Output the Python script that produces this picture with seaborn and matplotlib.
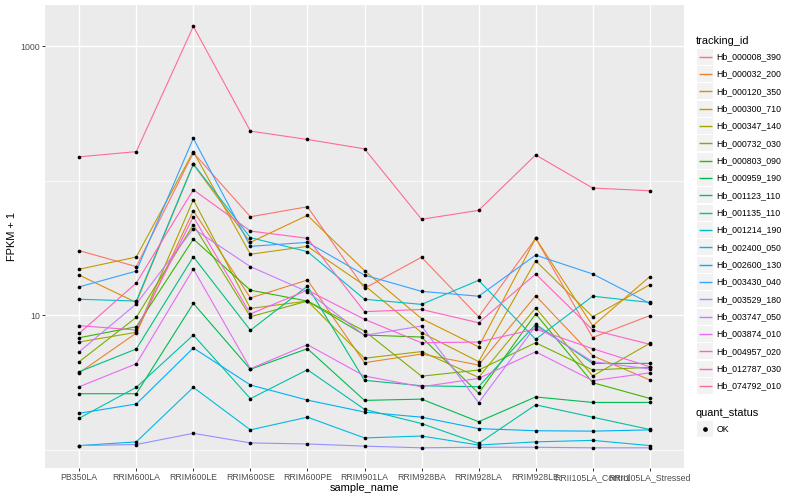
import numpy as np
import pandas as pd
import matplotlib
matplotlib.use("Agg")
import matplotlib.pyplot as plt
import seaborn as sns
from matplotlib.patches import Rectangle
from matplotlib.lines import Line2D
from matplotlib.ticker import FixedLocator, FixedFormatter, NullFormatter

# ---------------- data ----------------
samples = ["PB350LA", "RRIM600LA", "RRIM600LE", "RRIM600SE", "RRIM600PE", "RRIM901LA",
           "RRIM928BA", "RRIM928LA", "RRIM928LE", "RRII105LA_Control", "RRII105LA_Stressed"]

tracking_ids = ["Hb_000008_390", "Hb_000032_200", "Hb_000120_350", "Hb_000300_710",
                "Hb_000347_140", "Hb_000732_030", "Hb_000803_090", "Hb_000959_190",
                "Hb_001123_110", "Hb_001135_110", "Hb_001214_190", "Hb_002400_050",
                "Hb_002600_130", "Hb_003430_040", "Hb_003529_180", "Hb_003747_050",
                "Hb_003874_010", "Hb_004957_020", "Hb_012787_030", "Hb_074792_010"]

hue_colors = ["#F8766D", "#EA8331", "#D89000", "#C09B00", "#A3A500", "#7CAE00", "#39B600",
              "#00BB4E", "#00BF7D", "#00C1A3", "#00BFC4", "#00BAE0", "#00B0F6", "#35A2FF",
              "#9590FF", "#C77CFF", "#E76BF3", "#FA62DB", "#FF62BC", "#FF6C91"]

v_000008_390 = [30.1, 22.9, 161, 53.8, 63.8, 15.8, 26.9, 9.7, 37.2, 6.8, 9.9]
v_000032_200 = [3.72, 7.35, 59.7, 13.4, 18.2, 4.42, 5.13, 4.25, 13.9, 4.98, 3.29]
v_000120_350 = [19.8, 12.4, 132, 34.7, 55.1, 21.4, 9.4, 5.8, 37.2, 8.3, 19.3]
v_000300_710 = [21.9, 27.0, 164, 28.3, 32.4, 16.6, 7.4, 4.5, 25.3, 9.7, 16.8]
v_000347_140 = [6.3, 7.44, 72.0, 11.2, 12.7, 4.77, 5.35, 3.44, 11.3, 3.52, 6.16]
v_000732_030 = [4.5, 9.61, 46.9, 9.71, 12.7, 7.6, 3.51, 3.9, 6.22, 3.9, 4.09]
v_000803_090 = [6.78, 8.18, 36.7, 15.3, 12.7, 7.1, 6.86, 2.62, 10.2, 3.14, 2.4]
v_000959_190 = [2.6, 2.6, 12.2, 3.95, 5.62, 2.32, 2.37, 1.61, 2.46, 2.24, 2.24]
v_001123_110 = [3.79, 5.59, 27.1, 7.7, 16.4, 3.27, 2.98, 2.93, 8.53, 4.37, 4.37]
v_001135_110 = [1.71, 2.9, 7.1, 2.39, 3.92, 1.99, 1.56, 1.11, 2.15, 1.74, 1.41]
v_001214_190 = [13.1, 12.7, 133, 37.6, 29.6, 13.1, 12.0, 18.1, 6.6, 13.8, 12.4]
v_002400_050 = [1.07, 1.14, 2.9, 1.4, 1.74, 1.22, 1.26, 1.08, 1.14, 1.17, 1.07]
v_002600_130 = [1.86, 2.18, 5.69, 3.02, 2.33, 1.9, 1.74, 1.43, 1.38, 1.37, 1.4]
v_003430_040 = [16.2, 21.2, 206, 32.4, 34.7, 19.8, 15.0, 13.8, 27.9, 20.2, 12.2]
v_003529_180 = [1.07, 1.09, 1.32, 1.12, 1.10, 1.06, 1.03, 1.04, 1.04, 1.03, 1.03]
v_003747_050 = [5.33, 12.1, 43.9, 22.9, 14.9, 7.06, 8.28, 2.23, 8.28, 4.5, 3.97]
v_003874_010 = [2.93, 4.34, 22.0, 3.99, 6.02, 3.52, 2.93, 3.38, 5.33, 3.25, 3.72]
v_004957_020 = [8.33, 7.74, 53.7, 10.2, 15.3, 9.29, 6.22, 6.3, 7.87, 5.62, 4.13]
v_012787_030 = [7.31, 17.3, 85.4, 42.1, 37.2, 10.6, 11.0, 8.76, 20.2, 7.74, 6.06]
v_074792_010 = [150, 164, 1400, 233, 202, 172, 51.5, 60, 155, 87.9, 84]

series_values = [v_000008_390, v_000032_200, v_000120_350, v_000300_710, v_000347_140,
                 v_000732_030, v_000803_090, v_000959_190, v_001123_110, v_001135_110,
                 v_001214_190, v_002400_050, v_002600_130, v_003430_040, v_003529_180,
                 v_003747_050, v_003874_010, v_004957_020, v_012787_030, v_074792_010]

quant_status = ["OK"]
y_major = [10, 1000]
y_minor = [1, 100]

rows = []
for tid, vals in zip(tracking_ids, series_values):
    for s, v in zip(samples, vals):
        rows.append({"tracking_id": tid, "sample_name": s, "fpkm1": v, "quant_status": "OK"})
df = pd.DataFrame(rows)

# ---------------- figure ----------------
W, H = 800, 500
fig = plt.figure(figsize=(8, 5), dpi=100)
fig.patch.set_facecolor("white")
plt.rcParams["font.family"] = ["Liberation Sans", "DejaVu Sans"]

def fx(x):
    return x / W

def fy(y):
    return 1 - y / H

pl, pr, pt, pb = 45, 684, 5, 468
ax = fig.add_axes([fx(pl), fy(pb), (pr - pl) / W, (pb - pt) / H])
ax.set_facecolor("#EBEBEB")

palette = dict(zip(tracking_ids, hue_colors))
sns.lineplot(data=df, x="sample_name", y="fpkm1", hue="tracking_id", hue_order=tracking_ids,
             palette=palette, sort=False, estimator=None, errorbar=None, legend=False,
             linewidth=0.8, ax=ax, zorder=2)
sns.scatterplot(data=df, x="sample_name", y="fpkm1", color="black", s=7, marker="o",
                linewidth=0, legend=False, ax=ax, zorder=3)

ax.set_yscale("log")
ax.set_ylim(0.729, 2018)
ax.set_xlim(-0.6, len(samples) - 1 + 0.6)
ax.yaxis.set_major_locator(FixedLocator(y_major))
ax.yaxis.set_major_formatter(FixedFormatter([str(v) for v in y_major]))
ax.yaxis.set_minor_locator(FixedLocator(y_minor))
ax.yaxis.set_minor_formatter(NullFormatter())
ax.set_xticks(range(len(samples)))
ax.set_xticklabels(samples)

ax.grid(which="major", color="white", linewidth=1.0)
ax.grid(which="minor", axis="y", color="white", linewidth=0.5)
ax.set_axisbelow(True)
for sp in ax.spines.values():
    sp.set_visible(False)
ax.tick_params(which="major", length=2.0, width=0.7, color="#333333",
               labelcolor="#4D4D4D", labelsize=6.3, pad=1.6)
ax.tick_params(which="minor", length=0)
ax.set_xlabel("")
ax.set_ylabel("")

# axis titles
fig.text(fx(12), fy((pt + pb) / 2), "FPKM + 1", rotation=90, ha="center", va="center",
         fontsize=7.9, color="black")
fig.text(fx((pl + pr) / 2), fy(488), "sample_name", ha="center", va="center",
         fontsize=7.9, color="black")

# ---------------- legends ----------------
fig.text(fx(696), fy(40.5), "tracking_id", ha="left", va="center", fontsize=7.9)
step = 17.33
for i, (tid, col) in enumerate(zip(tracking_ids, hue_colors)):
    cy = 56.7 + step * i
    fig.patches.append(Rectangle((fx(697), fy(cy + 8)), 16 / W, 16 / H,
                                 transform=fig.transFigure, facecolor="#F2F2F2",
                                 edgecolor="none", zorder=1))
    fig.lines.append(Line2D([fx(698.5), fx(711.5)], [fy(cy), fy(cy)],
                            transform=fig.transFigure, color=col, linewidth=1.0,
                            solid_capstyle="butt", zorder=5))
    fig.text(fx(716.5), fy(cy), tid, ha="left", va="center", fontsize=6.3)

fig.text(fx(696), fy(412.5), "quant_status", ha="left", va="center", fontsize=7.9)
for j, qs in enumerate(quant_status):
    cy = 429 + step * j
    fig.patches.append(Rectangle((fx(697), fy(cy + 8)), 16 / W, 16 / H,
                                 transform=fig.transFigure, facecolor="#F2F2F2",
                                 edgecolor="none", zorder=1))
    fig.lines.append(Line2D([fx(705)], [fy(cy)], transform=fig.transFigure,
                            marker="o", markersize=2.4, color="black", linestyle="none",
                            zorder=5))
    fig.text(fx(716.5), fy(cy), qs, ha="left", va="center", fontsize=6.3)

fig.savefig("out.png", dpi=100)
